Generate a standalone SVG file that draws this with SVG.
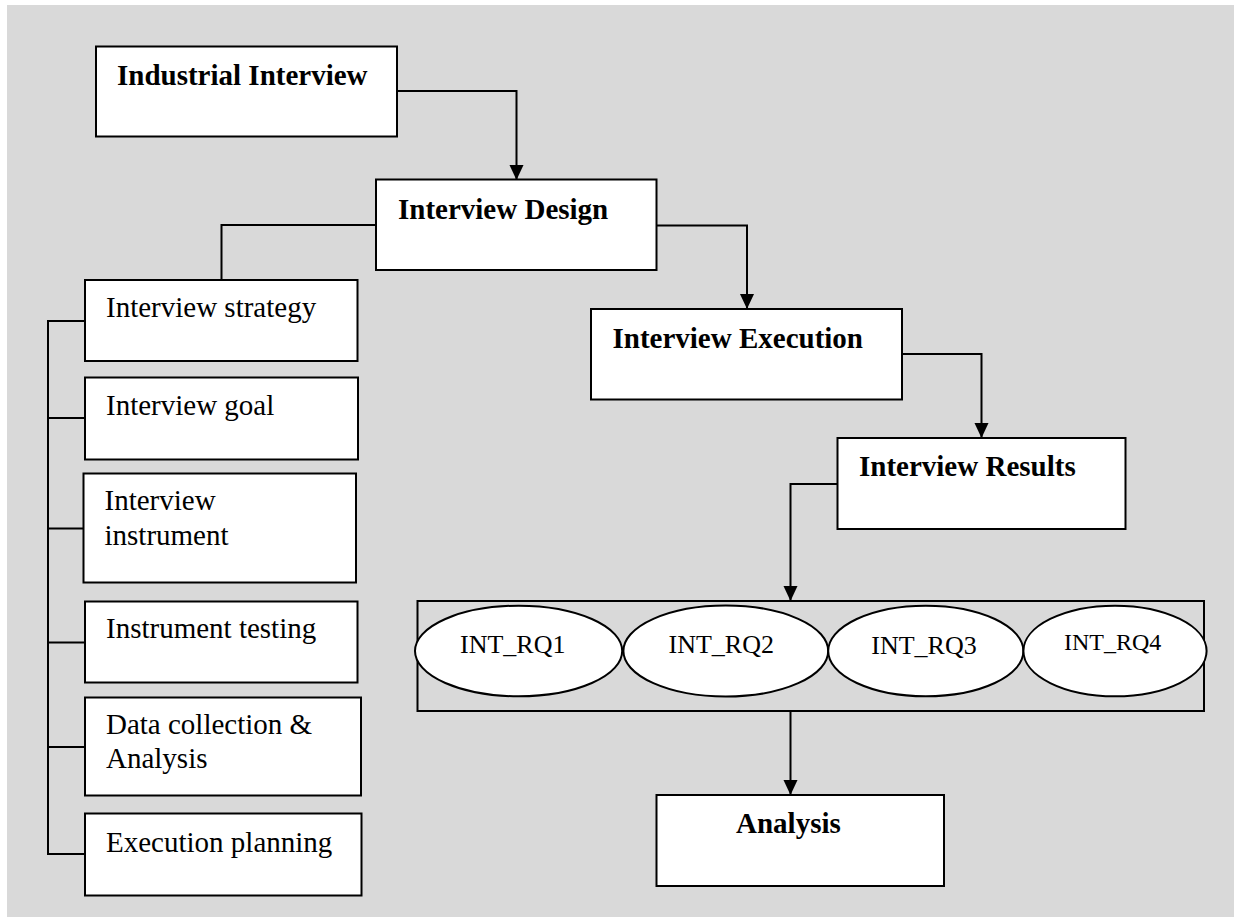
<svg xmlns="http://www.w3.org/2000/svg" width="1234" height="917" viewBox="0 0 1234 917">
<style>
.bg{fill:#d9d9d9}
.box{fill:#fff;stroke:#000;stroke-width:2}
.ell{fill:#fff;stroke:#000;stroke-width:2}
.cont{fill:none;stroke:#000;stroke-width:2}
.con{fill:none;stroke:#000;stroke-width:2}
.t{font-family:"Liberation Serif","Times New Roman",serif;font-size:29px;fill:#000}
.b{font-weight:bold}
.rq{font-family:"Liberation Serif","Times New Roman",serif;font-size:26px;fill:#000}
</style>
<defs>
<marker id="arr" markerUnits="userSpaceOnUse" markerWidth="16" markerHeight="16" viewBox="0 0 16 16" refX="15" refY="8" orient="auto">
<path d="M0,1 L15,8 L0,15 Z" fill="#000"/>
</marker>
</defs>
<rect class="bg" x="7" y="5" width="1227" height="912"/>

<g id="connectors">
<path class="con" d="M397,91 H516.5 V180" marker-end="url(#arr)"/>
<path class="con" d="M376,225 H221.5 V280"/>
<path class="con" d="M656.5,225.5 H747 V309" marker-end="url(#arr)"/>
<path class="con" d="M902,354 H981.5 V438" marker-end="url(#arr)"/>
<path class="con" d="M837.5,484 H790.5 V601" marker-end="url(#arr)"/>
<path class="con" d="M790.5,711 V795" marker-end="url(#arr)"/>
<path class="con" d="M85,321 H48 V854 H85 M48,418 H85 M48,528.5 H83 M48,642.5 H85 M48,747 H85"/>
</g>

<g id="industrial-interview">
<rect class="box" x="96" y="46.5" width="301" height="90"/>
<text class="t b" x="117" y="85">Industrial Interview</text>
</g>
<g id="interview-design">
<rect class="box" x="376" y="179.5" width="280.5" height="90.5"/>
<text class="t b" x="398" y="219">Interview Design</text>
</g>
<g id="interview-execution">
<rect class="box" x="591" y="309" width="311" height="90.5"/>
<text class="t b" x="612.5" y="348">Interview Execution</text>
</g>
<g id="interview-results">
<rect class="box" x="837.5" y="438" width="288" height="91"/>
<text class="t b" x="859" y="476">Interview Results</text>
</g>

<g id="interview-strategy">
<rect class="box" x="85" y="280" width="272.5" height="81"/>
<text class="t" x="106" y="317">Interview strategy</text>
</g>
<g id="interview-goal">
<rect class="box" x="85" y="377.5" width="273" height="82"/>
<text class="t" x="106" y="415">Interview goal</text>
</g>
<g id="interview-instrument">
<rect class="box" x="83.5" y="473.5" width="272.5" height="109"/>
<text class="t" x="104.5" y="510">Interview</text>
<text class="t" x="104.5" y="545">instrument</text>
</g>
<g id="instrument-testing">
<rect class="box" x="85" y="601.5" width="272.5" height="81"/>
<text class="t" x="106" y="638">Instrument testing</text>
</g>
<g id="data-collection">
<rect class="box" x="85" y="697.5" width="276" height="98"/>
<text class="t" x="106" y="734">Data collection &amp;</text>
<text class="t" x="106" y="768">Analysis</text>
</g>
<g id="execution-planning">
<rect class="box" x="85" y="813.5" width="276.5" height="82"/>
<text class="t" x="106" y="852">Execution planning</text>
</g>

<g id="rq-group">
<rect class="cont" x="417.5" y="601" width="786.5" height="110"/>
<g id="int-rq1">
<ellipse class="ell" cx="518.6" cy="651" rx="103.6" ry="45.3"/>
<text class="rq" x="460" y="653">INT_RQ1</text>
</g>
<g id="int-rq2">
<ellipse class="ell" cx="725.8" cy="651" rx="102.4" ry="45.5"/>
<text class="rq" x="668.5" y="653">INT_RQ2</text>
</g>
<g id="int-rq3">
<ellipse class="ell" cx="925.8" cy="651" rx="97.6" ry="45.3"/>
<text class="rq" x="871.3" y="653.5">INT_RQ3</text>
</g>
<g id="int-rq4">
<ellipse class="ell" cx="1115" cy="651" rx="91.6" ry="45.3"/>
<text class="rq" x="1064" y="649.5" style="font-size:24px">INT_RQ4</text>
</g>
</g>

<g id="analysis">
<rect class="box" x="656.5" y="795" width="287.5" height="91"/>
<text class="t b" x="736" y="833">Analysis</text>
</g>
</svg>
